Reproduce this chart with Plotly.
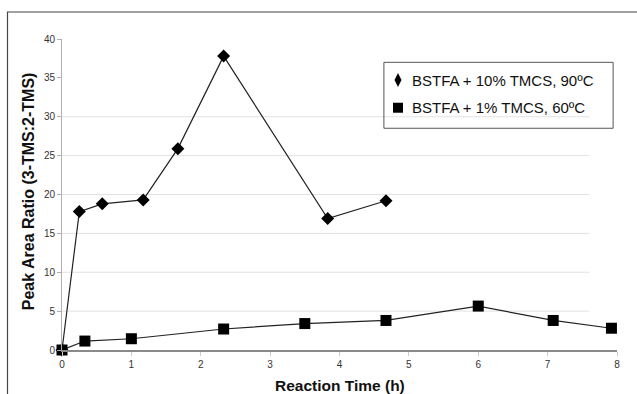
import plotly.graph_objects as go

# Data
time_10pct = [0, 0.25, 0.58, 1.17, 1.67, 2.33, 3.83, 4.67]
ratio_10pct = [0, 17.8, 18.8, 19.3, 25.9, 37.8, 16.9, 19.2]
time_1pct = [0, 0.33, 1.0, 2.33, 3.5, 4.67, 6.0, 7.08, 7.92]
ratio_1pct = [0, 1.15, 1.45, 2.7, 3.4, 3.8, 5.65, 3.8, 2.8]

series_names = ["BSTFA + 10% TMCS, 90ºC", "BSTFA + 1% TMCS, 60ºC"]
x_ticks = [0, 1, 2, 3, 4, 5, 6, 7, 8]
y_ticks = [0, 5, 10, 15, 20, 25, 30, 35, 40]
grid_vals = [5, 10, 15, 20, 25, 30]

FONT = "Arial, 'Liberation Sans', sans-serif"

fig = go.Figure()
fig.add_trace(go.Scatter(
    x=time_10pct, y=ratio_10pct, mode="lines+markers", name=series_names[0],
    line=dict(color="#222222", width=1.2),
    marker=dict(symbol="diamond", size=10, color="black"),
    cliponaxis=False, showlegend=False))
fig.add_trace(go.Scatter(
    x=time_1pct, y=ratio_1pct, mode="lines+markers", name=series_names[1],
    line=dict(color="#222222", width=1.2),
    marker=dict(symbol="square", size=11, color="black"),
    cliponaxis=False, showlegend=False))

# Legend symbols on an overlay axis spanning the plot area (0..1)
leg_x = [0.6054, 0.6054]
leg_y = [0.868, 0.779]
fig.add_trace(go.Scatter(
    x=[leg_x[0]], y=[leg_y[0]], xaxis="x2", yaxis="y2", mode="markers",
    marker=dict(symbol="diamond-tall", size=10, color="black"),
    showlegend=False, hoverinfo="skip", cliponaxis=False))
fig.add_trace(go.Scatter(
    x=[leg_x[1]], y=[leg_y[1]], xaxis="x2", yaxis="y2", mode="markers",
    marker=dict(symbol="square", size=10, color="black"),
    showlegend=False, hoverinfo="skip", cliponaxis=False))

shapes = []
for v in grid_vals:
    shapes.append(dict(type="line", xref="x", yref="y", x0=0, x1=7.6, y0=v, y1=v,
                       line=dict(color="#e2e2e2", width=1), layer="below"))
# outer frame
shapes.append(dict(type="rect", xref="paper", yref="paper",
                   x0=-0.0982, x1=1.3, y0=-0.4, y1=1.0868,
                   line=dict(color="#444444", width=1.2)))
# legend box
shapes.append(dict(type="rect", xref="paper", yref="paper",
                   x0=0.580, x1=0.993, y0=0.713, y1=0.925,
                   line=dict(color="#555555", width=1), fillcolor="rgba(0,0,0,0)"))

annotations = [
    dict(text="<b>Reaction Time (h)</b>", xref="paper", yref="paper", x=0.5, y=-0.113,
         xanchor="center", yanchor="middle", showarrow=False,
         font=dict(family=FONT, size=15.5, color="#111")),
    dict(text="<b>Peak Area Ratio (3-TMS:2-TMS)</b>", xref="paper", yref="paper",
         x=-0.0604, y=0.512, textangle=-90, xanchor="center", yanchor="middle",
         showarrow=False, font=dict(family=FONT, size=16, color="#111")),
]
for name, yy in zip(series_names, leg_y):
    annotations.append(dict(text=name, xref="paper", yref="paper", x=0.627, y=yy,
                            xanchor="left", yanchor="middle", showarrow=False,
                            font=dict(family=FONT, size=15, color="#111")))

fig.update_layout(
    width=637, height=394,
    margin=dict(l=62, r=20, t=39, b=44),
    paper_bgcolor="white", plot_bgcolor="white",
    font=dict(family=FONT, color="#333"),
    showlegend=False,
    xaxis=dict(range=[0, 8], tickvals=x_ticks, showgrid=False, zeroline=False,
               showline=True, linecolor="#8a8a8a", linewidth=2,
               ticks="outside", ticklen=4, tickcolor="#cccccc", tickwidth=1,
               tickfont=dict(family=FONT, size=10, color="#333")),
    yaxis=dict(range=[0, 40], tickvals=y_ticks, showgrid=False, zeroline=False,
               showline=True, linecolor="#b0b0b0", linewidth=1,
               ticks="outside", ticklen=4, tickcolor="#b0b0b0", tickwidth=1,
               tickfont=dict(family=FONT, size=10, color="#333")),
    xaxis2=dict(overlaying="x", range=[0, 1], visible=False, fixedrange=True),
    yaxis2=dict(overlaying="y", range=[0, 1], visible=False, fixedrange=True),
    shapes=shapes,
    annotations=annotations,
)

fig.write_html("out.html", config={"displayModeBar": False},
               post_script="document.body.style.margin='0';document.body.style.overflow='hidden';")
